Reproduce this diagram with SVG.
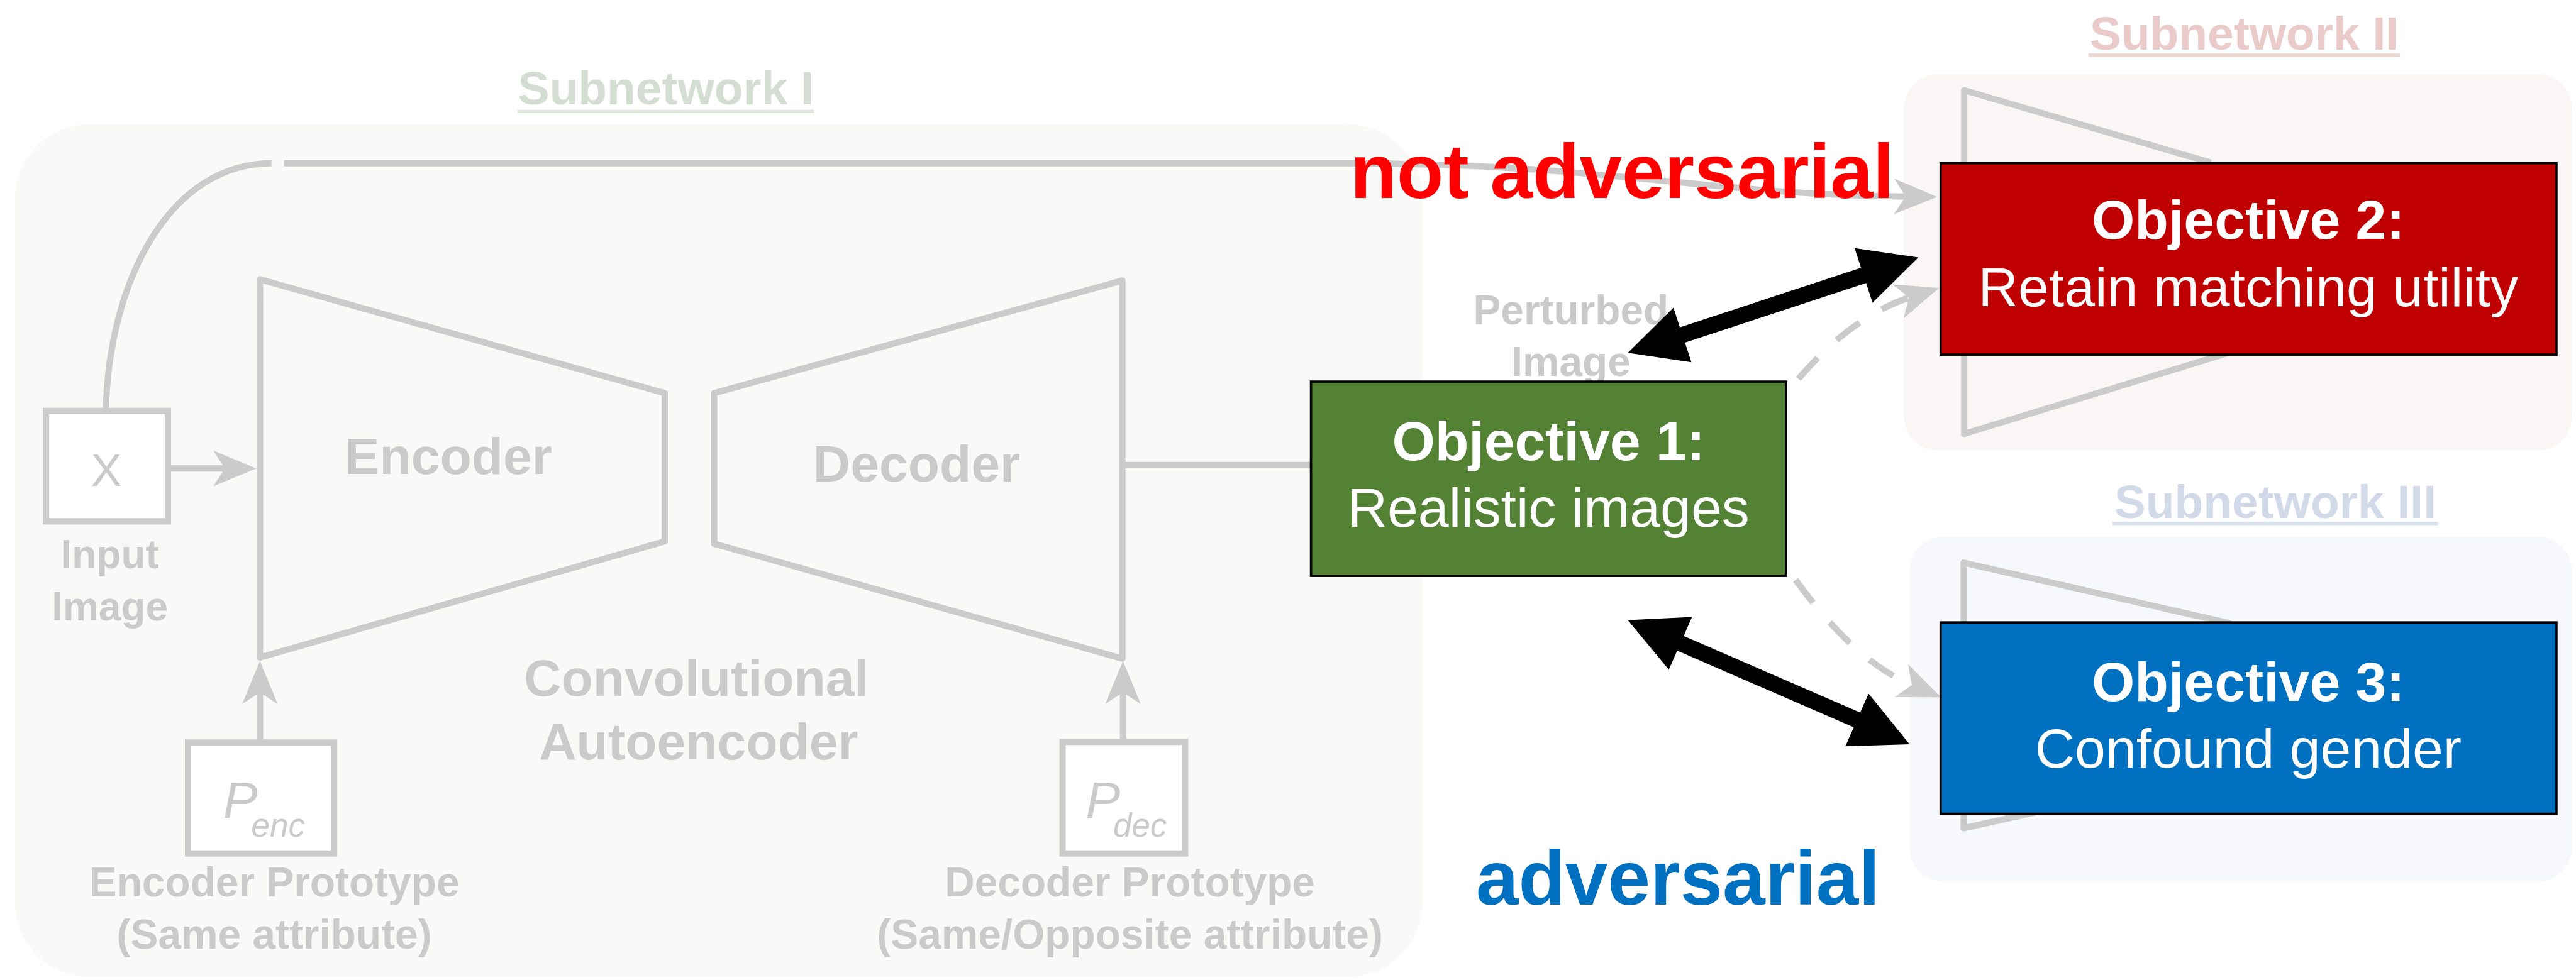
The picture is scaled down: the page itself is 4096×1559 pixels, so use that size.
<svg xmlns="http://www.w3.org/2000/svg" width="4096" height="1559" viewBox="0 0 4096 1559">
<defs>
<style>
text{font-family:"Liberation Sans",Arial,Helvetica,sans-serif}
.g{fill:none;stroke:#cbcbcb;stroke-width:11;stroke-linejoin:round}
.gt{fill:#cacaca;font-weight:bold;text-anchor:middle}
.box{stroke:#000;stroke-width:4}
.ob{fill:#fff;font-weight:bold;font-size:96px;text-anchor:middle}
.or{fill:#fff;font-size:96px;text-anchor:middle}
.sub{font-weight:bold;font-size:82px;text-anchor:middle}
.dash{stroke-dasharray:50 45}
</style>
<marker id="ga" markerUnits="userSpaceOnUse" markerWidth="90" markerHeight="80" viewBox="-5 -40 90 80" refX="20" refY="0" orient="auto">
<path d="M0,-31 L75,0 L0,31 L20,0 Z" fill="#cbcbcb"/>
</marker>
</defs>
<rect width="4096" height="1559" fill="#fff"/>
<g transform="scale(0.9142857)">
<g id="panels">
<rect id="panel-1" x="26" y="216" width="2448" height="1484" rx="130" fill="#f9faf8"/>
<rect id="panel-2" x="3311" y="129" width="1162" height="655" rx="60" fill="#faf6f6"/>
<rect id="panel-3" x="3321" y="934" width="1152" height="600" rx="60" fill="#f6f8fc"/>
</g>
<g id="subnetwork-labels">
<text class="sub" x="1158" y="182" fill="#d4ddd1">Subnetwork I</text>
<rect x="900" y="191" width="516" height="6" fill="#dfe6dc"/>
<text class="sub" x="3903" y="86" fill="#ebcaca">Subnetwork II</text>
<rect x="3632" y="93" width="542" height="6" fill="#efd6d6"/>
<text class="sub" x="3957" y="901" fill="#d2dae9">Subnetwork III</text>
<rect x="3674" y="908" width="566" height="6" fill="#dae1ee"/>
</g>
<g id="shapes">
<polygon id="encoder" class="g" points="452,486 1156,684 1156,942 452,1144"/>
<polygon id="decoder" class="g" points="1242,684 1952,488 1952,1146 1242,946"/>
<polyline id="tri-2" class="g" points="3845,283 3416,157 3416,755 3895,608"/>
<polyline id="tri-3" class="g" points="3880,1085 3415,979 3415,1441 3600,1400"/>
</g>
<g id="connectors">
<path class="g" d="M184,715 C190,480 300,284 472,284"/>
<path class="g" d="M494,284 H2330 C2800,284 2950,338 3314,342" marker-end="url(#ga)"/>
<path class="g" d="M292,815 H391" marker-end="url(#ga)"/>
<path class="g" d="M452,1292 V1205" marker-end="url(#ga)"/>
<path class="g" d="M1953,1291 V1205" marker-end="url(#ga)"/>
<path class="g" d="M1952,809 H2900"/>
<path class="g dash" d="M3070,735 Q3190,560 3320,518" marker-end="url(#ga)"/>
<path class="g dash" d="M3070,930 Q3200,1140 3325,1192" marker-end="url(#ga)"/>
</g>
<g id="node-x">
<rect x="80" y="715" width="212" height="192" fill="#fff" stroke="#cbcbcb" stroke-width="11"/>
<text x="185" y="846" fill="#cacaca" font-size="80" text-anchor="middle">X</text>
<text class="gt" x="191" y="989" font-size="70">Input</text>
<text class="gt" x="191" y="1079" font-size="70">Image</text>
</g>
<g id="node-encoder-label">
<text class="gt" x="780" y="825" font-size="90">Encoder</text>
</g>
<g id="node-decoder-label">
<text class="gt" x="1594" y="838" font-size="90">Decoder</text>
</g>
<g id="node-autoencoder-label">
<text class="gt" x="1211" y="1211" font-size="90">Convolutional</text>
<text class="gt" x="1215" y="1321" font-size="90">Autoencoder</text>
</g>
<g id="node-penc">
<rect x="327" y="1292" width="254" height="193" fill="#fff" stroke="#cbcbcb" stroke-width="11"/>
<text fill="#cacaca" font-style="italic"><tspan x="388" y="1423" font-size="90">P</tspan><tspan x="437" y="1456" font-size="58">enc</tspan></text>
<text class="gt" x="477" y="1560" font-size="72">Encoder Prototype</text>
<text class="gt" x="477" y="1650" font-size="72">(Same attribute)</text>
</g>
<g id="node-pdec">
<rect x="1848" y="1291" width="213" height="194" fill="#fff" stroke="#cbcbcb" stroke-width="11"/>
<text fill="#cacaca" font-style="italic"><tspan x="1888" y="1423" font-size="90">P</tspan><tspan x="1936" y="1456" font-size="58">dec</tspan></text>
<text class="gt" x="1965" y="1560" font-size="72">Decoder Prototype</text>
<text class="gt" x="1965" y="1650" font-size="72">(Same/Opposite attribute)</text>
</g>
<g id="node-perturbed">
<text class="gt" x="2732" y="564" font-size="72">Perturbed</text>
<text class="gt" x="2732" y="654" font-size="72">Image</text>
</g>
<g id="label-not-adversarial">
<text x="2348" y="345" font-size="133" font-weight="bold" fill="#ff0000">not adversarial</text>
</g>
<g id="label-adversarial">
<text x="2567" y="1574" font-size="133" font-weight="bold" fill="#0070c0">adversarial</text>
</g>
<g id="objective-1">
<rect class="box" x="2280" y="664" width="826" height="338" fill="#548235"/>
<text class="ob" x="2693" y="801">Objective 1:</text>
<text class="or" x="2693" y="917">Realistic images</text>
</g>
<g id="objective-2">
<rect class="box" x="3375" y="284" width="1071" height="333" fill="#c00000"/>
<text class="ob" x="3910" y="416">Objective 2:</text>
<text class="or" x="3910" y="533">Retain matching utility</text>
</g>
<g id="objective-3">
<rect class="box" x="3375" y="1083" width="1071" height="333" fill="#0070c0"/>
<text class="ob" x="3910" y="1220">Objective 3:</text>
<text class="or" x="3910" y="1336">Confound gender</text>
</g>
<g id="black-arrows" fill="#000">
<polygon points="3336,448 3256.6,526.7 3245.4,492.5 2930.4,596.1 2941.6,630.3 2831,614 2910.4,535.3 2921.6,569.5 3236.6,465.9 3225.4,431.7"/>
<polygon points="2831,1079 2942.7,1073.5 2928.1,1106.5 3235.1,1239.9 3249.7,1206.9 3321,1295 3209.4,1298.5 3223.9,1265.5 2916.9,1132.1 2902.3,1165.1"/>
</g>
</g>
</svg>
